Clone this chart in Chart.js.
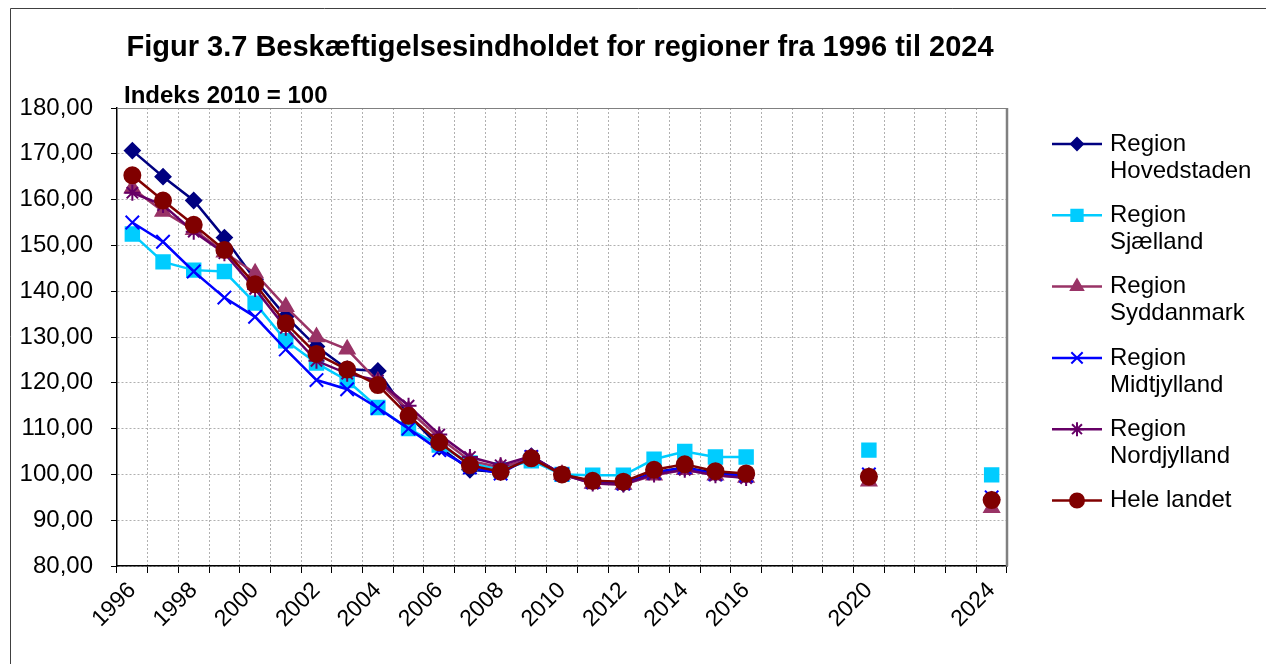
<!DOCTYPE html>
<html>
<head>
<meta charset="utf-8">
<script src="https://cdn.jsdelivr.net/npm/chart.js@4.4.0/dist/chart.umd.min.js"></script>
<style>
  html, body { margin: 0; padding: 0; background: #fff; }
  #wrap { width: 1266px; height: 664px; position: relative; }
</style>
</head>
<body>
<div id="wrap"><canvas id="chart"></canvas></div>
<script>
// categories (blank years have no data in the source table)
const YEARS = ['1996', '1997', '1998', '1999', '2000', '2001', '2002', '2003', '2004', '2005',
  '2006', '2007', '2008', '2009', '2010', '2011', '2012', '2013', '2014', '2015', '2016',
  '', '', '', '2020', '', '', '', '2024'];

const HOVEDSTADEN = [170.7, 165.0, 159.8, 151.7, 142.5, 134.5, 127.9, 123.0, 122.6, 113.0,
  106.0, 101.0, 100.5, 104.0, 100.0, 98.4, 98.0, 100.5, 101.5, 100.3, 99.8,
  null, null, null, 99.6, null, null, null, 94.5];
const SJAELLAND = [152.5, 146.4, 144.6, 144.3, 137.4, 129.2, 124.3, 120.5, 114.6, 110.0,
  106.4, 102.5, 101.0, 103.0, 100.0, 99.8, 99.8, 103.3, 105.0, 103.8, 103.8,
  null, null, null, 105.3, null, null, null, 99.9];
const SYDDANMARK = [162.5, 157.4, 153.4, 148.5, 143.9, 136.6, 130.0, 127.3, 120.3, 114.0,
  108.0, 103.0, 101.5, 103.5, 100.0, 98.0, 97.8, 99.8, 101.0, 99.8, 99.3,
  null, null, null, 98.5, null, null, null, 92.7];
const MIDTJYLLAND = [155.0, 150.8, 144.3, 138.6, 134.4, 127.3, 120.6, 118.6, 114.5, 110.0,
  105.3, 101.5, 100.2, 103.8, 100.0, 98.3, 98.0, 100.3, 101.5, 100.0, 99.7,
  null, null, null, 100.0, null, null, null, 95.0];
const NORDJYLLAND = [161.5, 158.8, 153.0, 148.3, 140.5, 132.0, 124.8, 122.0, 120.5, 115.0,
  108.7, 103.8, 102.0, 104.0, 100.0, 98.0, 97.8, 100.0, 101.0, 99.8, 99.2,
  null, null, null, 99.7, null, null, null, 94.5];
const HELE_LANDET = [165.3, 159.8, 154.5, 149.0, 141.5, 133.0, 126.3, 122.9, 119.5, 112.8,
  107.0, 102.0, 100.6, 103.5, 100.0, 98.6, 98.4, 101.0, 102.2, 100.7, 100.2,
  null, null, null, 99.5, null, null, null, 94.4];

const TITLE = 'Figur 3.7 Beskæftigelsesindholdet for regioner fra 1996 til 2024';
const SUBTITLE = 'Indeks 2010 = 100';
const FONT = '"Liberation Sans", Arial, sans-serif';

const SERIES = [
  { label: ['Region', 'Hovedstaden'], data: HOVEDSTADEN, color: '#000080', style: 'rectRot', r: 7.5, lr: 6 },
  { label: ['Region', 'Sjælland'], data: SJAELLAND, color: '#00CCFF', style: 'rect', r: 9.5, lr: 8 },
  { label: ['Region', 'Syddanmark'], data: SYDDANMARK, color: '#993366', style: 'triangle', r: 8.5, lr: 7 },
  { label: ['Region', 'Midtjylland'], data: MIDTJYLLAND, color: '#0000FF', style: 'crossRot', r: 9.5, lr: 8 },
  { label: ['Region', 'Nordjylland'], data: NORDJYLLAND, color: '#660066', style: 'star', r: 8, lr: 7 },
  { label: ['Hele landet'], data: HELE_LANDET, color: '#800000', style: 'circle', r: 8, lr: 7 },
];

function drawMarker(ctx, s, radius, x, y) {
  ctx.save();
  ctx.fillStyle = s.color;
  ctx.strokeStyle = s.color;
  ctx.lineWidth = 2;
  Chart.helpers.drawPoint(ctx, { pointStyle: s.style, radius: radius, rotation: 0, borderWidth: 2 }, x, y);
  ctx.restore();
}

const decorations = {
  id: 'decorations',
  beforeDraw(chart) {
    const ctx = chart.ctx;
    ctx.save();
    ctx.fillStyle = '#fff';
    ctx.fillRect(0, 0, chart.width, chart.height);
    ctx.restore();
  },
  beforeDatasetsDraw(chart) {
    const { ctx, chartArea: a } = chart;
    ctx.save();
    ctx.strokeStyle = '#808080';
    ctx.lineWidth = 1;
    ctx.beginPath();
    ctx.moveTo(a.left, a.top + 0.5);
    ctx.lineTo(a.right, a.top + 0.5);
    ctx.stroke();
    ctx.lineWidth = 2.5;
    ctx.beginPath();
    ctx.moveTo(a.right, a.top);
    ctx.lineTo(a.right, a.bottom);
    ctx.stroke();
    ctx.restore();
  },
  afterDraw(chart) {
    const ctx = chart.ctx;
    ctx.save();
    // outer frame
    ctx.strokeStyle = '#404040';
    ctx.lineWidth = 1;
    ctx.beginPath();
    ctx.moveTo(10.5, 664);
    ctx.lineTo(10.5, 8.5);
    ctx.lineTo(1266, 8.5);
    ctx.stroke();

    // titles
    ctx.fillStyle = '#000';
    ctx.textBaseline = 'middle';
    ctx.font = 'bold 29px ' + FONT;
    ctx.textAlign = 'center';
    ctx.fillText(TITLE, 560, 48);
    ctx.font = 'bold 24px ' + FONT;
    ctx.textAlign = 'left';
    ctx.fillText(SUBTITLE, 124, 96);

    // legend
    ctx.font = '24px ' + FONT;
    SERIES.forEach((s, i) => {
      const y = 144 + i * 71.3;
      ctx.strokeStyle = s.color;
      ctx.lineWidth = 2.5;
      ctx.beginPath();
      ctx.moveTo(1052, y);
      ctx.lineTo(1102, y);
      ctx.stroke();
      drawMarker(ctx, s, s.lr, 1077, y);
      ctx.fillStyle = '#000';
      s.label.forEach((t, j) => ctx.fillText(t, 1110, y + j * 27));
    });
    ctx.restore();
  }
};

new Chart(document.getElementById('chart'), {
  type: 'line',
  data: {
    labels: YEARS,
    datasets: SERIES.map((s, i) => ({
      label: s.label.join(' '),
      data: s.data,
      borderColor: s.color,
      backgroundColor: s.color,
      borderWidth: 2.5,
      pointStyle: s.style,
      pointRadius: s.r,
      pointBorderWidth: 2,
      pointBackgroundColor: s.color,
      pointBorderColor: s.color,
      spanGaps: false,
      tension: 0,
      order: SERIES.length - i,
    })),
  },
  options: {
    responsive: true,
    maintainAspectRatio: false,
    animation: false,
    layout: { padding: { top: 108, right: 259, left: 0, bottom: 0 } },
    plugins: {
      legend: { display: false },
      title: { display: false },
      tooltip: { enabled: false },
    },
    scales: {
      x: {
        type: 'category',
        offset: true,
        afterFit(scale) { scale.height = 98; },
        grid: {
          offset: true,
          color: '#b0b0b0',
          lineWidth: 1,
          tickColor: '#000',
          tickLength: 7,
          tickBorderDash: [],
        },
        border: { color: '#000', width: 1.5, dash: [2, 2] },
        ticks: {
          autoSkip: false,
          minRotation: 45,
          maxRotation: 45,
          padding: 4,
          color: '#000',
          font: { family: FONT, size: 23 },
          callback(v, i) { return i % 2 === 0 ? YEARS[i] : ''; },
        },
      },
      y: {
        min: 80,
        max: 180,
        afterFit(scale) { scale.width = 117; },
        grid: {
          color: '#b0b0b0',
          lineWidth: 1,
          tickColor: '#000',
          tickLength: 6,
          tickBorderDash: [],
        },
        border: { color: '#000', width: 1.5, dash: [2, 2] },
        ticks: {
          stepSize: 10,
          padding: 18,
          color: '#000',
          font: { family: FONT, size: 24 },
          callback(v) { return v.toFixed(2).replace('.', ','); },
        },
      },
    },
  },
  plugins: [decorations],
});
</script>
</body>
</html>
